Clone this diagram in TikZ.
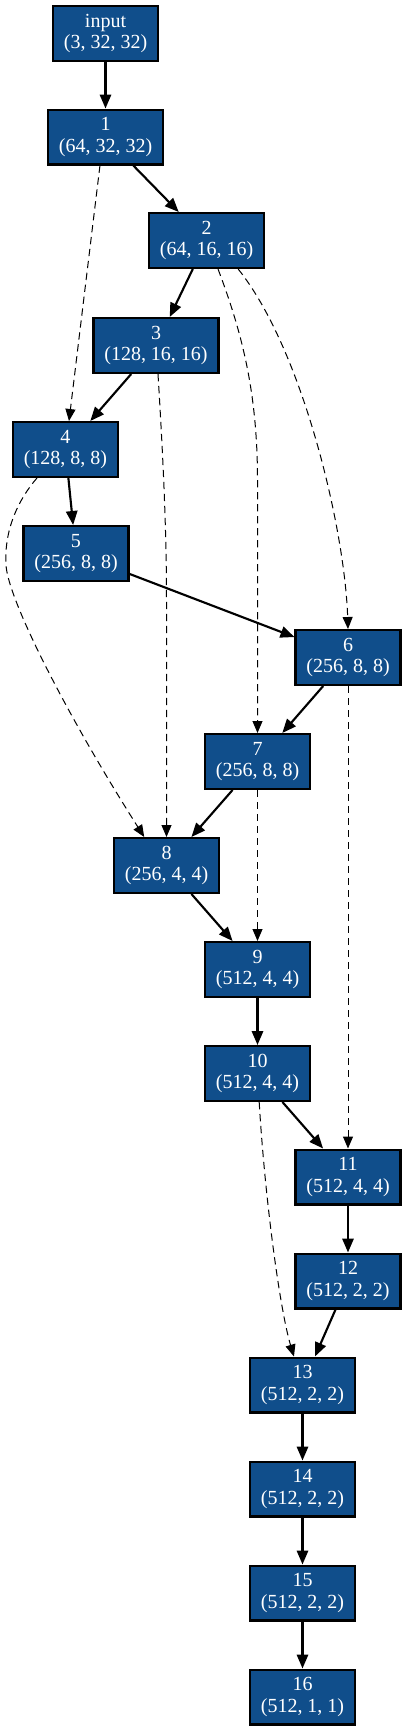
\documentclass[tikz,border=0pt]{standalone}
\usepackage{fontspec}
\setmainfont{Liberation Serif}
\usetikzlibrary{arrows.meta}
\definecolor{boxblue}{RGB}{16,78,139}
\tikzset{
  layer/.style={draw=black, line width=1.6pt, fill=boxblue, text=white,
    align=center, inner xsep=8.1pt, inner ysep=0pt, minimum height=41.15pt,
    font=\fontsize{15}{16.3}\selectfont},
  solidedge/.style={line width=1.6pt, -{Triangle[length=10.5pt,width=8.5pt]}},
  skipedge/.style={line width=0.75pt, dash pattern=on 5.5pt off 3.5pt,
    -{Triangle[length=9pt,width=7.5pt]}}
}
\begin{document}
\begin{tikzpicture}[x=0.75pt,y=-0.75pt]
\useasboundingbox (0,0) rectangle (407,1731);
\node[layer] (in)  at (105.5,33.5)  {input\\(3, 32, 32)};
\node[layer] (n1)  at (105.5,137)   {1\\(64, 32, 32)};
\node[layer] (n2)  at (206.5,240.5) {2\\(64, 16, 16)};
\node[layer] (n3)  at (156,345.5)   {3\\(128, 16, 16)};
\node[layer] (n4)  at (65.5,449.5)  {4\\(128, 8, 8)};
\node[layer] (n5)  at (76,553.5)    {5\\(256, 8, 8)};
\node[layer] (n6)  at (348,657.5)   {6\\(256, 8, 8)};
\node[layer] (n7)  at (257.5,761.5) {7\\(256, 8, 8)};
\node[layer] (n8)  at (166.5,865.5) {8\\(256, 4, 4)};
\node[layer] (n9)  at (257.5,969.5) {9\\(512, 4, 4)};
\node[layer] (n10) at (257.5,1073.5){10\\(512, 4, 4)};
\node[layer] (n11) at (348,1177)    {11\\(512, 4, 4)};
\node[layer] (n12) at (348,1281)    {12\\(512, 2, 2)};
\node[layer] (n13) at (302.5,1385)  {13\\(512, 2, 2)};
\node[layer] (n14) at (302.5,1489)  {14\\(512, 2, 2)};
\node[layer] (n15) at (302.5,1593)  {15\\(512, 2, 2)};
\node[layer] (n16) at (302.5,1697)  {16\\(512, 1, 1)};
% main path
\draw[solidedge] (in) -- (n1);
\draw[solidedge] (n1) -- (n2);
\draw[solidedge] (n2) -- (n3);
\draw[solidedge] (n3) -- (n4);
\draw[solidedge] (n4) -- (n5);
\draw[solidedge] (n5) -- (n6);
\draw[solidedge] (n6) -- (n7);
\draw[solidedge] (n7) -- (n8);
\draw[solidedge] (n8) -- (n9);
\draw[solidedge] (n9) -- (n10);
\draw[solidedge] (n10) -- (n11);
\draw[solidedge] (n11) -- (n12);
\draw[solidedge] (n12) -- (n13);
\draw[solidedge] (n13) -- (n14);
\draw[solidedge] (n14) -- (n15);
\draw[solidedge] (n15) -- (n16);
% skip connections
\draw[skipedge] (n1.-101) -- (n4.83);
\draw[skipedge] (n2.-68) .. controls (241,330) and (257.5,390) .. (257.5,480) -- (n7);
\draw[skipedge] (n2.-42) .. controls (303,350) and (345,530) .. (n6.north);
\draw[skipedge] (n3.-86) .. controls (162,440) and (166.5,520) .. (166.5,600) -- (n8);
\draw[skipedge] (n4.-135) .. controls (18,500) and (4,530) .. (6,565)
   .. controls (8,600) and (68,717) .. (n8.128);
\draw[skipedge] (n6) -- (n11);
\draw[skipedge] (n7) -- (n9);
\draw[skipedge] (n10) .. controls (265,1200) and (280,1310) .. (n13);
\end{tikzpicture}
\end{document}
